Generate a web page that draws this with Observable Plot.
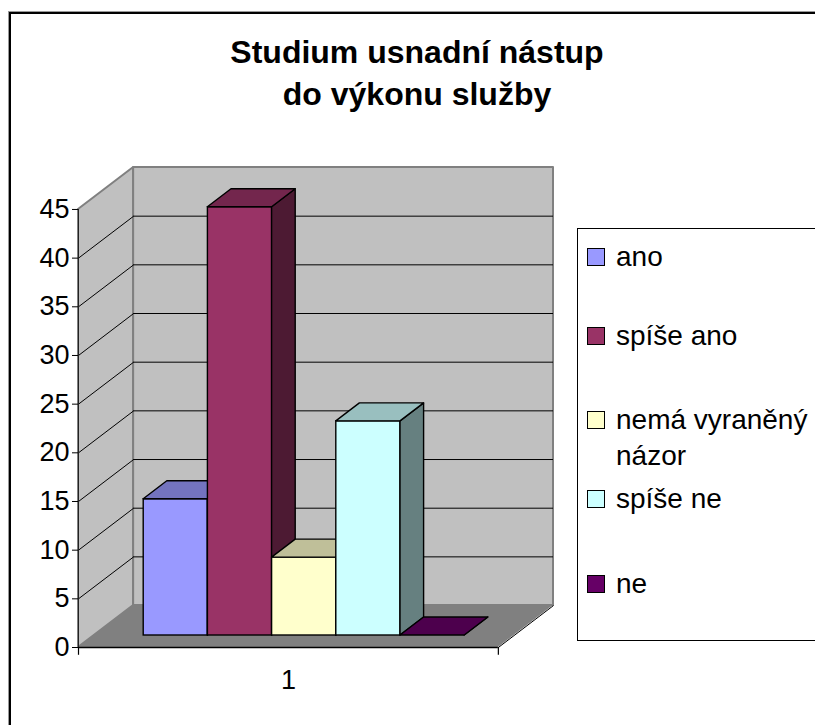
<!DOCTYPE html>
<html>
<head>
<meta charset="utf-8">
<script src="https://cdn.jsdelivr.net/npm/d3@7"></script>
<script src="https://cdn.jsdelivr.net/npm/@observablehq/plot@0.6"></script>
<style>
  html, body { margin: 0; padding: 0; background: #fff; overflow: hidden; width: 815px; height: 725px; }
  #wrap { position: relative; width: 815px; height: 725px; overflow: hidden; font-family: "Liberation Sans", Arial, sans-serif; background: #fff; }
  #frame { position: absolute; left: 9px; top: 12px; width: 1200px; height: 1200px; border-left: 2px solid #000; border-top: 2px solid #000; box-shadow: -1px -1px 0 #999; }
  #title { position: absolute; left: 0; top: 31px; width: 815px; padding-left: 19px; box-sizing: border-box; text-align: center; font-weight: bold; font-size: 32px; line-height: 42px; color: #000; }
  #chart { position: absolute; left: 0; top: 0; width: 815px; height: 725px; overflow: hidden; }
  #legend { position: absolute; left: 577px; top: 228px; width: 400px; height: 411px; border-left: 1px solid #000; border-top: 1px solid #000; border-bottom: 1px solid #000; background: #fff; }
  .sw { position: absolute; left: 9px; width: 16px; height: 16px; border: 1px solid #000; }
  .lbl { position: absolute; left: 38px; white-space: nowrap; font-size: 28px; line-height: 36px; color: #000; }
</style>
</head>
<body>
<div id="wrap">
  <div id="frame"></div>
  <div id="chart"></div>
  <div id="title">Studium usnadní nástup<br>do výkonu služby</div>
  <div id="legend"></div>
</div>
<script>
// ---- data ----
const categories = ["1"];
const series = ["ano", "spíše ano", "nemá vyraněný názor", "spíše ne", "ne"];
const values = [14, 44, 8, 22, 0];
const yTicks = [0, 5, 10, 15, 20, 25, 30, 35, 40, 45];
const legendLines = [["ano"], ["spíše ano"], ["nemá vyraněný", "názor"], ["spíše ne"], ["ne"]];

// ---- styles ----
const frontColors = ["#9999ff", "#993366", "#ffffcc", "#ccffff", "#660066"];
const topColors   = ["#7373bf", "#73264d", "#bfbf99", "#99bfbf", "#4d004d"];
const sideColors  = ["#4d4d80", "#4d1a33", "#808066", "#668080", "#330033"];

// oblique projection parameters (depth in x-units and y-units)
const gap = 0.77;        // padding between floor edge and first/last bar
const kx = 0.859;        // full depth offset, x units
const ky = 4.31;         // full depth offset, value units
const zf = 0.286, zb = 0.714; // bar depth range
const yMax = 45;
const n = values.length;
const xL = -gap, xR = n + gap;

const marks = [];

// left wall
marks.push(Plot.areaY([
  {x: xL, y1: 0, y2: yMax},
  {x: xL + kx, y1: ky, y2: yMax + ky}
], {x: "x", y1: "y1", y2: "y2", fill: "#c0c0c0", stroke: "#808080", strokeWidth: 2}));
// back wall
marks.push(Plot.areaY([
  {x: xL + kx, y1: ky, y2: yMax + ky},
  {x: xR + kx, y1: ky, y2: yMax + ky}
], {x: "x", y1: "y1", y2: "y2", fill: "#c0c0c0", stroke: "#808080", strokeWidth: 2}));

// gridlines (exclude 0 and top)
const grid = yTicks.filter(t => t > 0 && t < yMax);
marks.push(Plot.ruleY(grid, {y: d => d + ky, x1: xL + kx, x2: xR + kx, stroke: "#000", strokeWidth: 1}));
marks.push(Plot.link(grid, {x1: xL, y1: d => d, x2: xL + kx, y2: d => d + ky, stroke: "#000", strokeWidth: 1}));

// floor
marks.push(Plot.areaY([
  {x: xL, y1: 0, y2: 0},
  {x: xL + kx, y1: 0, y2: ky},
  {x: xR, y1: 0, y2: ky},
  {x: xR + kx, y1: ky, y2: ky}
], {x: "x", y1: "y1", y2: "y2", fill: "#808080"}));
marks.push(Plot.link([0], {x1: xR, y1: 0, x2: xR + kx, y2: ky, stroke: "#000", strokeWidth: 1}));

// bars
values.forEach((v, i) => {
  const x0 = i + zf * kx, x1 = i + 1 + zf * kx, d = (zb - zf) * kx;
  const b0 = zf * ky, b1 = zb * ky;
  // front
  marks.push(Plot.rect([{x1: x0, x2: x1, y1: b0, y2: v + b0}],
    {x1: "x1", x2: "x2", y1: "y1", y2: "y2", fill: frontColors[i], stroke: "#000", strokeWidth: 1.4}));
  // side
  marks.push(Plot.areaY([
    {x: x1, y1: b0, y2: v + b0},
    {x: x1 + d, y1: b1, y2: v + b1}
  ], {x: "x", y1: "y1", y2: "y2", fill: sideColors[i], stroke: "#000", strokeWidth: 1.4, strokeLinejoin: "round"}));
  // top
  marks.push(Plot.areaY([
    {x: x0, y1: v + b0, y2: v + b0},
    {x: x0 + d, y1: v + b0, y2: v + b1},
    {x: x1, y1: v + b0, y2: v + b1},
    {x: x1 + d, y1: v + b1, y2: v + b1}
  ], {x: "x", y1: "y1", y2: "y2", fill: topColors[i], stroke: "#000", strokeWidth: 1.4, strokeLinejoin: "round"}));
});

// axes
marks.push(Plot.ruleX([xL], {y1: 0, y2: yMax, stroke: "#222", strokeWidth: 1}));
marks.push(Plot.ruleY([0], {x1: xL, x2: xR, stroke: "#000", strokeWidth: 1.5}));
marks.push(Plot.ruleX([xL, xR], {y1: 0, y2: -0.8, stroke: "#000", strokeWidth: 1.2}));
marks.push(Plot.axisY({ticks: yTicks, tickSize: 6, tickPadding: 3, fontSize: 27, tickFormat: d => String(d), label: null, stroke: "#000"}));
marks.push(Plot.text(categories, {x: n / 2, y: 0, dy: 33, text: d => d, fontSize: 27, fill: "#000"}));

const plot = Plot.plot({
  width: 815,
  height: 725,
  marginLeft: 78,
  marginRight: 262,
  marginTop: 167,
  marginBottom: 78,
  x: {type: "linear", domain: [xL, xR + kx], axis: null},
  y: {type: "linear", domain: [0, yMax + ky], axis: null},
  style: {background: "transparent", fontFamily: "Liberation Sans, Arial, sans-serif", fontSize: "27px", color: "#000"},
  marks
});
document.getElementById("chart").appendChild(plot);

// legend (swatch centres, relative to legend box top)
const legend = document.getElementById("legend");
const itemCenters = [28, 107, 191, 270, 355];
series.forEach((s, i) => {
  const sw = document.createElement("div");
  sw.className = "sw";
  sw.style.background = frontColors[i];
  sw.style.top = (itemCenters[i] - 9) + "px";
  const lb = document.createElement("div");
  lb.className = "lbl";
  lb.style.top = (itemCenters[i] - 18) + "px";
  lb.innerHTML = legendLines[i].join("<br>");
  legend.appendChild(sw);
  legend.appendChild(lb);
});
</script>
</body>
</html>
